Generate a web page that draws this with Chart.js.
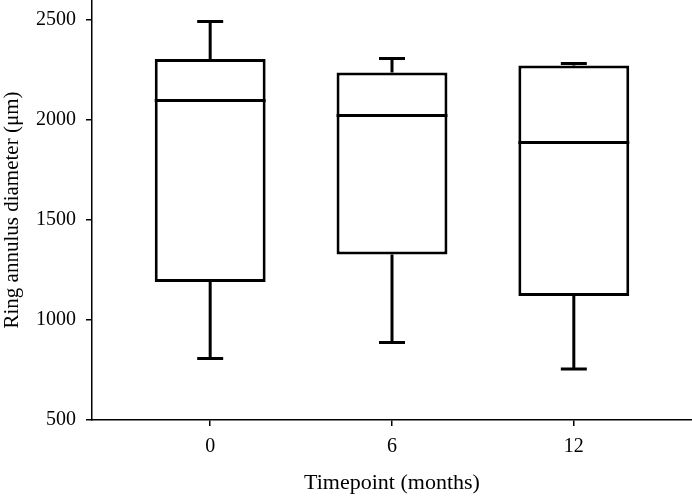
<!DOCTYPE html>
<html>
<head>
<meta charset="utf-8">
<script src="https://cdn.jsdelivr.net/npm/chart.js@4/dist/chart.umd.min.js"></script>
<style>
    html, body { margin: 0; padding: 0; background: #fff; }
    #wrap { width: 692px; height: 499px; position: relative; }
</style>
</head>
<body>
<div id="wrap"><canvas id="boxChart"></canvas></div>
<script>
// --- Data ---
const timepoints = ['0', '6', '12'];
const whiskerLow = [807, 887, 755];
const q1 = [1190, 1327, 1120];
const median = [2098, 2022, 1888];
const q3 = [2305, 2237, 2273];
const whiskerHigh = [2492, 2307, 2282];
const yTicks = [500, 1000, 1500, 2000, 2500];

const serif = "'Liberation Serif', 'Times New Roman', serif";

// whiskers, caps and median lines, drawn through the chart's scales
const boxExtras = {
    id: 'boxExtras',
    afterDatasetsDraw(chart) {
        const { ctx, scales: { x, y } } = chart;
        const meta = chart.getDatasetMeta(0);
        const capHalf = 13;
        ctx.save();
        ctx.strokeStyle = '#000';
        ctx.lineWidth = 3;
        ctx.lineCap = 'butt';
        timepoints.forEach((t, i) => {
            const cx = x.getPixelForValue(i);
            const bar = meta.data[i];
            const half = bar.width / 2;
            // median
            ctx.beginPath();
            ctx.moveTo(cx - half, y.getPixelForValue(median[i]));
            ctx.lineTo(cx + half, y.getPixelForValue(median[i]));
            ctx.stroke();
            // upper whisker
            ctx.beginPath();
            ctx.moveTo(cx, y.getPixelForValue(q3[i]));
            ctx.lineTo(cx, y.getPixelForValue(whiskerHigh[i]));
            ctx.moveTo(cx - capHalf, y.getPixelForValue(whiskerHigh[i]));
            ctx.lineTo(cx + capHalf, y.getPixelForValue(whiskerHigh[i]));
            // lower whisker
            ctx.moveTo(cx, y.getPixelForValue(q1[i]));
            ctx.lineTo(cx, y.getPixelForValue(whiskerLow[i]));
            ctx.moveTo(cx - capHalf, y.getPixelForValue(whiskerLow[i]));
            ctx.lineTo(cx + capHalf, y.getPixelForValue(whiskerLow[i]));
            ctx.stroke();
        });
        ctx.restore();
    }
};

new Chart(document.getElementById('boxChart'), {
    type: 'bar',
    data: {
        datasets: [{
            label: 'Ring annulus diameter',
            data: timepoints.map((t, i) => ({ x: i, y: [q1[i], q3[i]] })),
            backgroundColor: '#fff',
            borderColor: '#000',
            borderWidth: 3,
            borderSkipped: false,
            categoryPercentage: 1,
            barPercentage: 0.61
        }]
    },
    options: {
        responsive: true,
        maintainAspectRatio: false,
        animation: false,
        layout: { padding: 0 },
        plugins: {
            legend: { display: false },
            tooltip: { enabled: false }
        },
        scales: {
            x: {
                type: 'linear',
                min: -0.65,
                max: 2.65,
                offset: false,
                afterBuildTicks: axis => { axis.ticks = timepoints.map((t, i) => ({ value: i })); },
                afterFit: axis => {
                    axis.height = 79;
                    axis.paddingLeft = 0;
                    axis.paddingRight = 0;
                },
                grid: { display: true, offset: false, drawOnChartArea: false, color: '#000', tickLength: 6, lineWidth: 1.5 },
                border: { display: true, color: '#000', width: 1.5 },
                ticks: {
                    color: '#000',
                    font: { family: serif, size: 20 },
                    padding: 9,
                    callback: v => timepoints[v]
                },
                title: {
                    display: true,
                    text: 'Timepoint (months)',
                    color: '#000',
                    font: { family: serif, size: 22 },
                    padding: { top: 0, bottom: 3 }
                }
            },
            y: {
                min: 500,
                max: 2600,
                afterBuildTicks: axis => { axis.ticks = yTicks.map(v => ({ value: v })); },
                afterFit: axis => {
                    axis.width = 92;
                    axis.paddingTop = 0;
                    axis.paddingBottom = 0;
                },
                grid: { display: true, drawOnChartArea: false, color: '#000', tickLength: 6, lineWidth: 1.5 },
                border: { display: true, color: '#000', width: 1.5 },
                ticks: {
                    color: '#000',
                    font: { family: serif, size: 20 },
                    padding: 10,
                    callback: v => String(v)
                },
                title: {
                    display: true,
                    text: 'Ring annulus diameter (μm)',
                    color: '#000',
                    font: { family: serif, size: 21 },
                    padding: { top: 0, bottom: 0 }
                }
            }
        }
    },
    plugins: [boxExtras]
});
</script>
</body>
</html>
